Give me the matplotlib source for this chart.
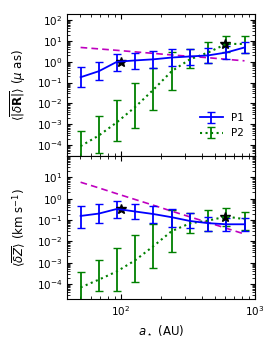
import numpy as np
import matplotlib
matplotlib.use('agg')
from matplotlib import pyplot as plt

a = [50.1, 68.5, 93.5, 128, 175, 239, 327, 447, 610, 834]

# top panel: <|dR|> (micro-as)
r1 = [0.18, 0.35, 0.99, 1.15, 1.3, 1.58, 1.78, 2.0, 2.75, 4.8]
r1_lo = [0.059, 0.13, 0.37, 0.46, 0.5, 0.6, 0.7, 0.9, 1.3, 2.6]
r1_hi = [0.55, 1.0, 2.3, 2.6, 3.1, 4.0, 4.0, 4.3, 5.8, 9.0]
r2 = [9e-5, 2.9e-4, 1.26e-3, 6.8e-3, 0.046, 0.35, 1.3, 2.75, 7.1, 7.1]
r2_lo = [1e-5, 4.4e-5, 1.66e-4, 6.8e-4, 4.6e-3, 0.043, 0.5, 0.9, 3.0, 2.6]
r2_hi = [4.7e-4, 2.6e-3, 0.015, 0.095, 0.52, 3.0, 4.0, 8.6, 17.8, 17.8]
r_ref = [4.8, 4.1, 3.5, 2.95, 2.5, 2.1, 1.8, 1.55, 1.3, 1.1]
r_star_x = [100, 600]
r_star_y = [0.95, 7.1]

# bottom panel: <|dZ|> (km/s)
z1 = [0.155, 0.2, 0.33, 0.25, 0.19, 0.135, 0.09, 0.071, 0.063, 0.063]
z1_lo = [0.044, 0.07, 0.13, 0.11, 0.07, 0.046, 0.042, 0.032, 0.029, 0.032]
z1_hi = [0.47, 0.56, 0.81, 0.56, 0.43, 0.33, 0.21, 0.145, 0.12, 0.12]
z2 = [6.9e-5, 1.6e-4, 3.9e-4, 1.3e-3, 6e-3, 0.03, 0.07, 0.094, 0.145, 0.11]
z2_lo = [5e-6, 4.5e-5, 4.5e-5, 1.25e-4, 5.6e-4, 3.3e-3, 0.024, 0.032, 0.055, 0.035]
z2_hi = [3.6e-4, 1.3e-3, 4.8e-3, 0.02, 0.066, 0.3, 0.22, 0.3, 0.38, 0.23]
z_ref = [5.9, 3.2, 1.7, 0.91, 0.49, 0.26, 0.14, 0.076, 0.041, 0.022]
z_star_x = [100, 600]
z_star_y = [0.32, 0.145]


def err(c, lo, hi):
    c = np.array(c); lo = np.array(lo); hi = np.array(hi)
    return [c - lo, hi - c]


plt.rcParams['font.size'] = 7.5
plt.rcParams['mathtext.fontset'] = 'dejavusans'

fig = plt.figure(figsize=(2.8, 3.5), dpi=100)
ax1 = fig.add_axes([0.241, 0.554, 0.67, 0.407])
ax2 = fig.add_axes([0.241, 0.146, 0.67, 0.408], sharex=ax1)

panels = [
    (ax1, r1, r1_lo, r1_hi, r2, r2_lo, r2_hi, r_ref, r_star_x, r_star_y),
    (ax2, z1, z1_lo, z1_hi, z2, z2_lo, z2_hi, z_ref, z_star_x, z_star_y),
]
for ax, c1, l1, h1, c2, l2, h2, ref, sx, sy in panels:
    ax.plot(a, ref, '--', color='m', lw=1.2, dashes=(4, 2.5))
    ax.errorbar(a, c2, yerr=err(c2, l2, h2), fmt=':', color='green',
                lw=1.5, elinewidth=1.3, capsize=3, capthick=1, label='P2')
    ax.errorbar(a, c1, yerr=err(c1, l1, h1), fmt='-', color='blue',
                lw=1.3, elinewidth=1.3, capsize=3, capthick=1, label='P1')
    ax.plot(sx, sy, '*', color='k', ms=7)
    ax.set_xscale('log')
    ax.set_yscale('log')
    ax.tick_params(which='both', direction='in', top=True, right=True)
    ax.tick_params(which='major', length=3.5, width=0.8)
    ax.tick_params(which='minor', length=2, width=0.6)
    ax.set_yticks([1e-4, 1e-3, 1e-2, 1e-1, 1, 10, 100])
    ax.yaxis.set_minor_locator(matplotlib.ticker.LogLocator(base=10, subs=np.arange(2, 10), numticks=20))

ax1.set_xlim(40, 1000)
ax1.set_ylim(3e-5, 200)
ax2.set_ylim(2e-5, 99)
ax1.tick_params(labelbottom=False)

h, l = ax1.get_legend_handles_labels()
ax1.legend(h[::-1], l[::-1], loc='lower right', frameon=False, fontsize=7.5,
           bbox_to_anchor=(0.99, 0.06), handlelength=2.2, labelspacing=0.5)

ax1.set_ylabel(r'$\langle\overline{|\delta\mathbf{R}|}\rangle$ ($\mu$ as)', fontsize=8.5)
ax2.set_ylabel(r'$\langle\overline{\delta Z}\rangle$ (km s$^{-1}$)', fontsize=8.5)
ax2.set_xlabel(r'$a_\star$ (AU)', fontsize=8.5)
ax1.yaxis.set_label_coords(-0.21, 0.5)
ax2.yaxis.set_label_coords(-0.21, 0.5)

fig.savefig('out.png', dpi=100)
